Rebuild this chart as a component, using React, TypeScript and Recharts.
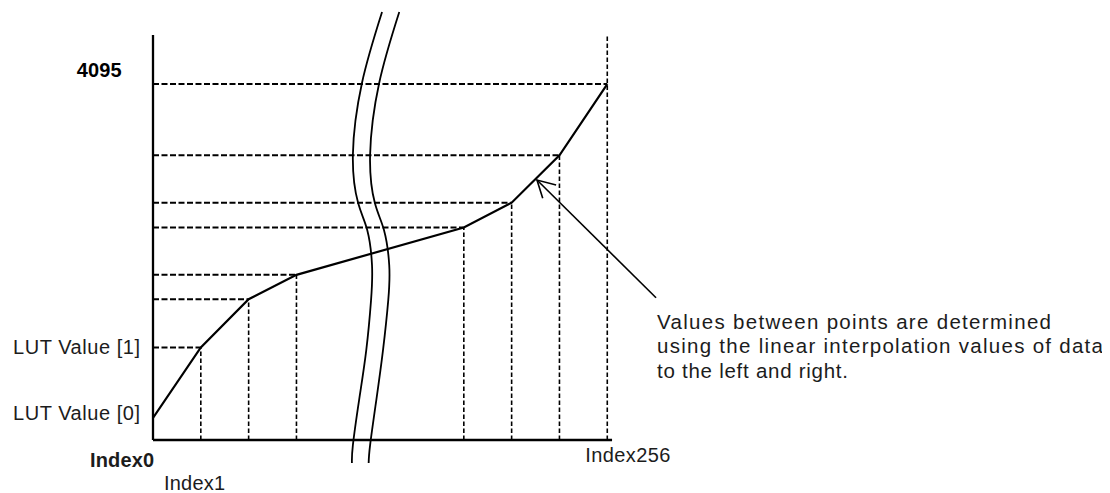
import React from "react";
import { LineChart, Line, XAxis, YAxis, ReferenceLine } from "recharts";

// x = slot along the axis (the axis is broken between the 4th and 5th point)
const slotPos = [0, 1, 2, 3, 6.5, 7.5, 8.5, 9.5];
const lutValues = [255, 1065, 1620, 1900, 2445, 2730, 3275, 4095];

const xTicks = [0, 1, 9.5];
const xTickLabels = ["Index0", "Index1", "Index256"];
const yTicks = [255, 1065, 4095];
const yTickLabels = ["LUT Value [0]", "LUT Value [1]", "4095"];

const axisTop = 4659;
const axisEnd = 9.6;

// the two wavy "break" marks
const breakY = [4923, 4107, 3278, 2726, 2416, 2013, 1610, 1035, 460, -58, -265];
const breakLeftX = [4.79, 4.37, 4.18, 4.29, 4.48, 4.58, 4.56, 4.46, 4.31, 4.18, 4.16];
const breakRightX = [5.15, 4.73, 4.54, 4.64, 4.83, 4.94, 4.92, 4.81, 4.67, 4.54, 4.51];

// annotation arrow
const shaftX = [10.52, 8.03];
const shaftY = [1637, 2991];
const headX = [8.43, 8.03, 8.15];
const headY = [2933, 2991, 2780];

const noteLines = [
  "Values between points are determined",
  "using the linear interpolation values of data",
  "to the left and right.",
];

const FONT = '"Liberation Sans", Arial, Helvetica, sans-serif';
const TEXT = "#1c1c1c";
const FS = 20;

const W = 1094;
const H = 485;

const toPoints = (xs: number[], ys: number[]) => xs.map((x, i) => ({ x, y: ys[i] }));

const lutData = toPoints(slotPos, lutValues);
const breakLeft = toPoints(breakLeftX, breakY);
const breakRight = toPoints(breakRightX, breakY);
const shaft = toPoints(shaftX, shaftY);
const head = toPoints(headX, headY);

const XTick = (props: any) => {
  const { x, y, payload } = props;
  const i = xTicks.indexOf(payload.value);
  const label = xTickLabels[i];
  const common = { fontFamily: FONT, fontSize: FS, fill: TEXT, lengthAdjust: "spacing" as const };
  if (i === 0)
    return (
      <text x={x + 1} y={y - 3} textAnchor="end" fontWeight="bold" fill="#000" textLength={64} {...common}>
        {label}
      </text>
    );
  if (i === 1)
    return (
      <text x={x - 36.8} y={y + 20} textAnchor="start" textLength={61} {...common}>
        {label}
      </text>
    );
  return (
    <text x={x - 22} y={y - 8} textAnchor="start" textLength={85} {...common}>
      {label}
    </text>
  );
};

const YTick = (props: any) => {
  const { x, y, payload } = props;
  const i = yTicks.indexOf(payload.value);
  const label = yTickLabels[i];
  const common = { fontFamily: FONT, fontSize: FS, lengthAdjust: "spacing" as const, textAnchor: "end" as const };
  if (i === 2)
    return (
      <text x={x - 31.3} y={y - 7} fontWeight="bold" fill="#000" textLength={45} {...common}>
        {label}
      </text>
    );
  return (
    <text x={x - 13} y={y + (i === 0 ? 2 : 7)} fill={TEXT} textLength={127} {...common}>
      {label}
    </text>
  );
};

const noteWidths = [394, 446, 191];

export default function App() {
  const last = slotPos.length - 1;
  return (
    <div style={{ position: "relative", width: W, height: H }}>
      <LineChart width={W} height={H} margin={{ top: 0, right: 423, left: 0, bottom: 0 }}>
        <XAxis
          type="number"
          dataKey="x"
          domain={[0, 11]}
          allowDataOverflow
          ticks={xTicks}
          interval={0}
          tick={<XTick />}
          axisLine={false}
          tickLine={false}
          tickSize={0}
          tickMargin={0}
          height={23}
        />
        <YAxis
          type="number"
          dataKey="y"
          domain={[-345, 4970]}
          allowDataOverflow
          ticks={yTicks}
          interval={0}
          tick={<YTick />}
          axisLine={false}
          tickLine={false}
          tickSize={0}
          tickMargin={0}
          width={145}
        />

        {slotPos.map((x, i) =>
          i === 0 ? null : (
            <ReferenceLine
              key={`h${i}`}
              segment={[{ x: 0, y: lutValues[i] }, { x, y: lutValues[i] }]}
              stroke="#000"
              strokeWidth={2}
              strokeDasharray="6 2.5"
            />
          )
        )}
        {slotPos.map((x, i) =>
          i === 0 ? null : (
            <ReferenceLine
              key={`v${i}`}
              segment={[{ x, y: 0 }, { x, y: i === last ? axisTop : lutValues[i] }]}
              stroke="#000"
              strokeWidth={1.6}
              strokeDasharray="4.5 2.5"
            />
          )
        )}

        <ReferenceLine segment={[{ x: 0, y: 0 }, { x: 0, y: axisTop }]} stroke="#000" strokeWidth={2.3} />
        <ReferenceLine segment={[{ x: 0, y: 0 }, { x: axisEnd, y: 0 }]} stroke="#000" strokeWidth={2.3} />

        <Line data={lutData} dataKey="y" type="linear" stroke="#000" strokeWidth={2.2} dot={false} isAnimationActive={false} />
        <Line data={breakLeft} dataKey="y" type="natural" stroke="#000" strokeWidth={1.8} dot={false} isAnimationActive={false} />
        <Line data={breakRight} dataKey="y" type="natural" stroke="#000" strokeWidth={1.8} dot={false} isAnimationActive={false} />
        <Line data={shaft} dataKey="y" type="linear" stroke="#000" strokeWidth={1.6} dot={false} isAnimationActive={false} />
        <Line data={head} dataKey="y" type="linear" stroke="#000" strokeWidth={1.6} dot={false} isAnimationActive={false} />
      </LineChart>
      <svg
        width={W}
        height={H}
        style={{ position: "absolute", left: 0, top: 0, pointerEvents: "none" }}
      >
        {noteLines.map((t, i) => (
          <text
            key={i}
            x={649}
            y={321 + i * 24.3}
            fontFamily={FONT}
            fontSize={20.5}
            fill={TEXT}
            textLength={noteWidths[i]}
            lengthAdjust="spacing"
          >
            {t}
          </text>
        ))}
      </svg>
    </div>
  );
}
